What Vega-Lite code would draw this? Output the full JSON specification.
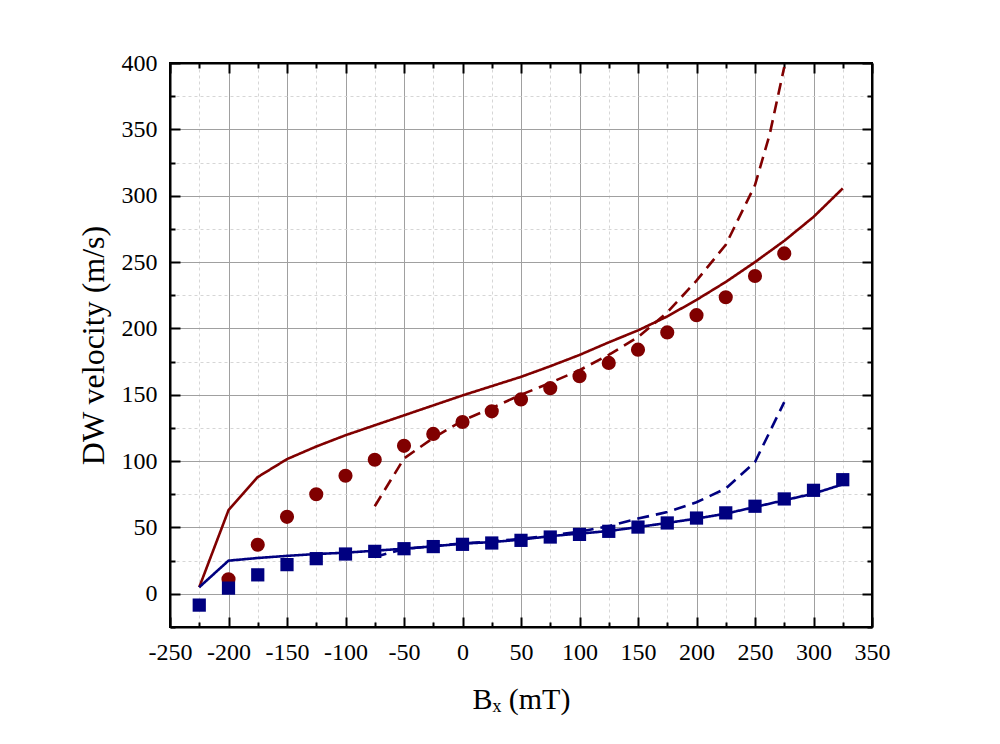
{
  "$schema": "https://vega.github.io/schema/vega-lite/v6.json",
  "width": 702,
  "height": 564,
  "autosize": {"type": "none"},
  "padding": {"left": 170, "top": 63, "right": 128, "bottom": 117},
  "background": "white",
  "config": {
    "font": "Liberation Serif",
    "view": {"stroke": "black", "strokeWidth": 2},
    "axis": {
      "domainColor": "black",
      "domainWidth": 2,
      "tickColor": "black",
      "tickWidth": 2,
      "labelFont": "Liberation Serif",
      "labelFontSize": 24,
      "labelColor": "black",
      "titleFont": "Liberation Serif",
      "titleFontSize": 30,
      "titleFontWeight": "normal",
      "titleColor": "black"
    }
  },
  "data": {
    "values": [
      {"series": "red", "curve": "symbol", "Bx": -200, "v": 11},
      {"series": "red", "curve": "symbol", "Bx": -175, "v": 37},
      {"series": "red", "curve": "symbol", "Bx": -150, "v": 58},
      {"series": "red", "curve": "symbol", "Bx": -125, "v": 75},
      {"series": "red", "curve": "symbol", "Bx": -100, "v": 89},
      {"series": "red", "curve": "symbol", "Bx": -75, "v": 101},
      {"series": "red", "curve": "symbol", "Bx": -50, "v": 111.5},
      {"series": "red", "curve": "symbol", "Bx": -25, "v": 120.5},
      {"series": "red", "curve": "symbol", "Bx": 0, "v": 129.5},
      {"series": "red", "curve": "symbol", "Bx": 25, "v": 137.5},
      {"series": "red", "curve": "symbol", "Bx": 50, "v": 146.5},
      {"series": "red", "curve": "symbol", "Bx": 75, "v": 155},
      {"series": "red", "curve": "symbol", "Bx": 100, "v": 164},
      {"series": "red", "curve": "symbol", "Bx": 125, "v": 174},
      {"series": "red", "curve": "symbol", "Bx": 150, "v": 184},
      {"series": "red", "curve": "symbol", "Bx": 175, "v": 197},
      {"series": "red", "curve": "symbol", "Bx": 200, "v": 210},
      {"series": "red", "curve": "symbol", "Bx": 225, "v": 223.5},
      {"series": "red", "curve": "symbol", "Bx": 250, "v": 239.5},
      {"series": "red", "curve": "symbol", "Bx": 275, "v": 256.5},

      {"series": "blue", "curve": "symbol", "Bx": -225, "v": -8.5},
      {"series": "blue", "curve": "symbol", "Bx": -200, "v": 4.3},
      {"series": "blue", "curve": "symbol", "Bx": -175, "v": 14.3},
      {"series": "blue", "curve": "symbol", "Bx": -150, "v": 22},
      {"series": "blue", "curve": "symbol", "Bx": -125, "v": 26.5},
      {"series": "blue", "curve": "symbol", "Bx": -100, "v": 30},
      {"series": "blue", "curve": "symbol", "Bx": -75, "v": 32},
      {"series": "blue", "curve": "symbol", "Bx": -50, "v": 34},
      {"series": "blue", "curve": "symbol", "Bx": -25, "v": 35.6},
      {"series": "blue", "curve": "symbol", "Bx": 0, "v": 37.3},
      {"series": "blue", "curve": "symbol", "Bx": 25, "v": 38.3},
      {"series": "blue", "curve": "symbol", "Bx": 50, "v": 40.3},
      {"series": "blue", "curve": "symbol", "Bx": 75, "v": 42.8},
      {"series": "blue", "curve": "symbol", "Bx": 100, "v": 44.8},
      {"series": "blue", "curve": "symbol", "Bx": 125, "v": 47.1},
      {"series": "blue", "curve": "symbol", "Bx": 150, "v": 50.3},
      {"series": "blue", "curve": "symbol", "Bx": 175, "v": 53.4},
      {"series": "blue", "curve": "symbol", "Bx": 200, "v": 57.1},
      {"series": "blue", "curve": "symbol", "Bx": 225, "v": 61},
      {"series": "blue", "curve": "symbol", "Bx": 250, "v": 66},
      {"series": "blue", "curve": "symbol", "Bx": 275, "v": 71.5},
      {"series": "blue", "curve": "symbol", "Bx": 300, "v": 78},
      {"series": "blue", "curve": "symbol", "Bx": 325, "v": 86},

      {"series": "red", "curve": "solid", "Bx": -225, "v": 5},
      {"series": "red", "curve": "solid", "Bx": -200, "v": 63},
      {"series": "red", "curve": "solid", "Bx": -175, "v": 88},
      {"series": "red", "curve": "solid", "Bx": -150, "v": 101.5},
      {"series": "red", "curve": "solid", "Bx": -125, "v": 111},
      {"series": "red", "curve": "solid", "Bx": -100, "v": 119.5},
      {"series": "red", "curve": "solid", "Bx": -75, "v": 127},
      {"series": "red", "curve": "solid", "Bx": -50, "v": 134.5},
      {"series": "red", "curve": "solid", "Bx": -25, "v": 142},
      {"series": "red", "curve": "solid", "Bx": 0, "v": 149.5},
      {"series": "red", "curve": "solid", "Bx": 25, "v": 156.5},
      {"series": "red", "curve": "solid", "Bx": 50, "v": 163.5},
      {"series": "red", "curve": "solid", "Bx": 75, "v": 171.5},
      {"series": "red", "curve": "solid", "Bx": 100, "v": 180},
      {"series": "red", "curve": "solid", "Bx": 125, "v": 189.5},
      {"series": "red", "curve": "solid", "Bx": 150, "v": 198.5},
      {"series": "red", "curve": "solid", "Bx": 175, "v": 209},
      {"series": "red", "curve": "solid", "Bx": 200, "v": 221.5},
      {"series": "red", "curve": "solid", "Bx": 225, "v": 235},
      {"series": "red", "curve": "solid", "Bx": 250, "v": 250},
      {"series": "red", "curve": "solid", "Bx": 275, "v": 266},
      {"series": "red", "curve": "solid", "Bx": 300, "v": 284},
      {"series": "red", "curve": "solid", "Bx": 325, "v": 305.5},

      {"series": "red", "curve": "dashed", "Bx": -75, "v": 66},
      {"series": "red", "curve": "dashed", "Bx": -50, "v": 102},
      {"series": "red", "curve": "dashed", "Bx": -25, "v": 117.5},
      {"series": "red", "curve": "dashed", "Bx": 0, "v": 130.5},
      {"series": "red", "curve": "dashed", "Bx": 25, "v": 140},
      {"series": "red", "curve": "dashed", "Bx": 50, "v": 150},
      {"series": "red", "curve": "dashed", "Bx": 75, "v": 159},
      {"series": "red", "curve": "dashed", "Bx": 100, "v": 168.5},
      {"series": "red", "curve": "dashed", "Bx": 125, "v": 180},
      {"series": "red", "curve": "dashed", "Bx": 150, "v": 193.5},
      {"series": "red", "curve": "dashed", "Bx": 175, "v": 212},
      {"series": "red", "curve": "dashed", "Bx": 200, "v": 236},
      {"series": "red", "curve": "dashed", "Bx": 225, "v": 263},
      {"series": "red", "curve": "dashed", "Bx": 250, "v": 308},
      {"series": "red", "curve": "dashed", "Bx": 262.5, "v": 346},
      {"series": "red", "curve": "dashed", "Bx": 275, "v": 397},

      {"series": "blue", "curve": "solid", "Bx": -225, "v": 5},
      {"series": "blue", "curve": "solid", "Bx": -200, "v": 25},
      {"series": "blue", "curve": "solid", "Bx": -175, "v": 27},
      {"series": "blue", "curve": "solid", "Bx": -150, "v": 28.6},
      {"series": "blue", "curve": "solid", "Bx": -125, "v": 30},
      {"series": "blue", "curve": "solid", "Bx": -100, "v": 31},
      {"series": "blue", "curve": "solid", "Bx": -75, "v": 32.5},
      {"series": "blue", "curve": "solid", "Bx": -50, "v": 34},
      {"series": "blue", "curve": "solid", "Bx": -25, "v": 35.8},
      {"series": "blue", "curve": "solid", "Bx": 0, "v": 37.8},
      {"series": "blue", "curve": "solid", "Bx": 25, "v": 39},
      {"series": "blue", "curve": "solid", "Bx": 50, "v": 40.8},
      {"series": "blue", "curve": "solid", "Bx": 75, "v": 43.5},
      {"series": "blue", "curve": "solid", "Bx": 100, "v": 45.4},
      {"series": "blue", "curve": "solid", "Bx": 125, "v": 47.3},
      {"series": "blue", "curve": "solid", "Bx": 150, "v": 50.3},
      {"series": "blue", "curve": "solid", "Bx": 175, "v": 53.4},
      {"series": "blue", "curve": "solid", "Bx": 200, "v": 56.7},
      {"series": "blue", "curve": "solid", "Bx": 225, "v": 60.4},
      {"series": "blue", "curve": "solid", "Bx": 250, "v": 65.4},
      {"series": "blue", "curve": "solid", "Bx": 275, "v": 70.5},
      {"series": "blue", "curve": "solid", "Bx": 300, "v": 75.5},
      {"series": "blue", "curve": "solid", "Bx": 325, "v": 82.5},

      {"series": "blue", "curve": "dashed", "Bx": -75, "v": 27.7},
      {"series": "blue", "curve": "dashed", "Bx": -50, "v": 33.8},
      {"series": "blue", "curve": "dashed", "Bx": -25, "v": 36},
      {"series": "blue", "curve": "dashed", "Bx": 0, "v": 38},
      {"series": "blue", "curve": "dashed", "Bx": 25, "v": 39.5},
      {"series": "blue", "curve": "dashed", "Bx": 50, "v": 41.5},
      {"series": "blue", "curve": "dashed", "Bx": 75, "v": 44},
      {"series": "blue", "curve": "dashed", "Bx": 100, "v": 46.8},
      {"series": "blue", "curve": "dashed", "Bx": 125, "v": 51},
      {"series": "blue", "curve": "dashed", "Bx": 150, "v": 56.7},
      {"series": "blue", "curve": "dashed", "Bx": 175, "v": 61.6},
      {"series": "blue", "curve": "dashed", "Bx": 200, "v": 69},
      {"series": "blue", "curve": "dashed", "Bx": 225, "v": 79.3},
      {"series": "blue", "curve": "dashed", "Bx": 250, "v": 99.3},
      {"series": "blue", "curve": "dashed", "Bx": 275, "v": 144.5}
    ]
  },
  "layer": [
    {
      "transform": [{"filter": "datum.curve !== 'symbol'"}],
      "mark": {"type": "line", "strokeWidth": 2.6},
      "encoding": {
        "x": {
          "field": "Bx", "type": "quantitative",
          "scale": {"domain": [-250, 350], "nice": false, "zero": false},
          "axis": {
            "orient": "bottom",
            "title": "Bₓ (mT)",
            "titlePadding": 15,
            "values": [-250,-225,-200,-175,-150,-125,-100,-75,-50,-25,0,25,50,75,100,125,150,175,200,225,250,275,300,325,350],
            "labelExpr": "datum.value % 50 === 0 ? '' + datum.value : ''",
            "labelFont": "Liberation Serif",
            "labelFontSize": 24,
            "labelFlush": false,
            "labelOverlap": false,
            "labelPadding": 23,
            "tickSize": {"condition": {"test": "datum.value % 50 === 0", "value": -10}, "value": -5},
            "grid": true,
            "gridColor": {"condition": {"test": "datum.value % 50 === 0", "value": "#a0a0a0"}, "value": "#d6d6d6"},
            "gridDash": {"condition": {"test": "datum.value % 50 === 0", "value": []}, "value": [3, 3]},
            "gridWidth": 1
          }
        },
        "y": {
          "field": "v", "type": "quantitative",
          "scale": {"domain": [-25, 400], "nice": false, "zero": false},
          "axis": {
            "orient": "left",
            "title": "DW velocity (m/s)",
            "titleFontSize": 32,
            "titlePadding": 11,
            "values": [-25,0,25,50,75,100,125,150,175,200,225,250,275,300,325,350,375,400],
            "labelExpr": "datum.value % 50 === 0 ? '' + datum.value : ''",
            "labelFont": "Liberation Serif",
            "labelFontSize": 24,
            "labelFlush": false,
            "labelOverlap": false,
            "labelPadding": 23,
            "tickSize": {"condition": {"test": "datum.value % 50 === 0", "value": -10}, "value": -5},
            "grid": true,
            "gridColor": {"condition": {"test": "datum.value % 50 === 0", "value": "#a0a0a0"}, "value": "#d6d6d6"},
            "gridDash": {"condition": {"test": "datum.value % 50 === 0", "value": []}, "value": [3, 3]},
            "gridWidth": 1
          }
        },
        "color": {
          "field": "series", "type": "nominal",
          "scale": {"domain": ["red", "blue"], "range": ["#800000", "#000080"]},
          "legend": null
        },
        "strokeDash": {
          "field": "curve", "type": "nominal",
          "scale": {"domain": ["solid", "dashed"], "range": [[1, 0], [12, 7]]},
          "legend": null
        }
      }
    },
    {
      "transform": [{"filter": "datum.curve === 'symbol' && datum.series === 'red'"}],
      "mark": {"type": "point", "shape": "circle", "filled": true, "opacity": 1, "size": 200, "color": "#800000"},
      "encoding": {
        "x": {
          "field": "Bx", "type": "quantitative",
          "axis": {
            "orient": "top",
            "title": null,
            "labels": false,
            "grid": false,
            "values": [-250,-225,-200,-175,-150,-125,-100,-75,-50,-25,0,25,50,75,100,125,150,175,200,225,250,275,300,325,350],
            "tickSize": {"condition": {"test": "datum.value % 50 === 0", "value": -10}, "value": -5}
          }
        },
        "y": {
          "field": "v", "type": "quantitative",
          "axis": {
            "orient": "right",
            "title": null,
            "labels": false,
            "grid": false,
            "values": [-25,0,25,50,75,100,125,150,175,200,225,250,275,300,325,350,375,400],
            "tickSize": {"condition": {"test": "datum.value % 50 === 0", "value": -10}, "value": -5}
          }
        }
      }
    },
    {
      "transform": [{"filter": "datum.curve === 'symbol' && datum.series === 'blue'"}],
      "mark": {"type": "point", "shape": "square", "filled": true, "opacity": 1, "size": 175, "color": "#000080"},
      "encoding": {
        "x": {"field": "Bx", "type": "quantitative", "axis": null},
        "y": {"field": "v", "type": "quantitative", "axis": null}
      }
    }
  ],
  "resolve": {"axis": {"x": "independent", "y": "independent"}}
}
